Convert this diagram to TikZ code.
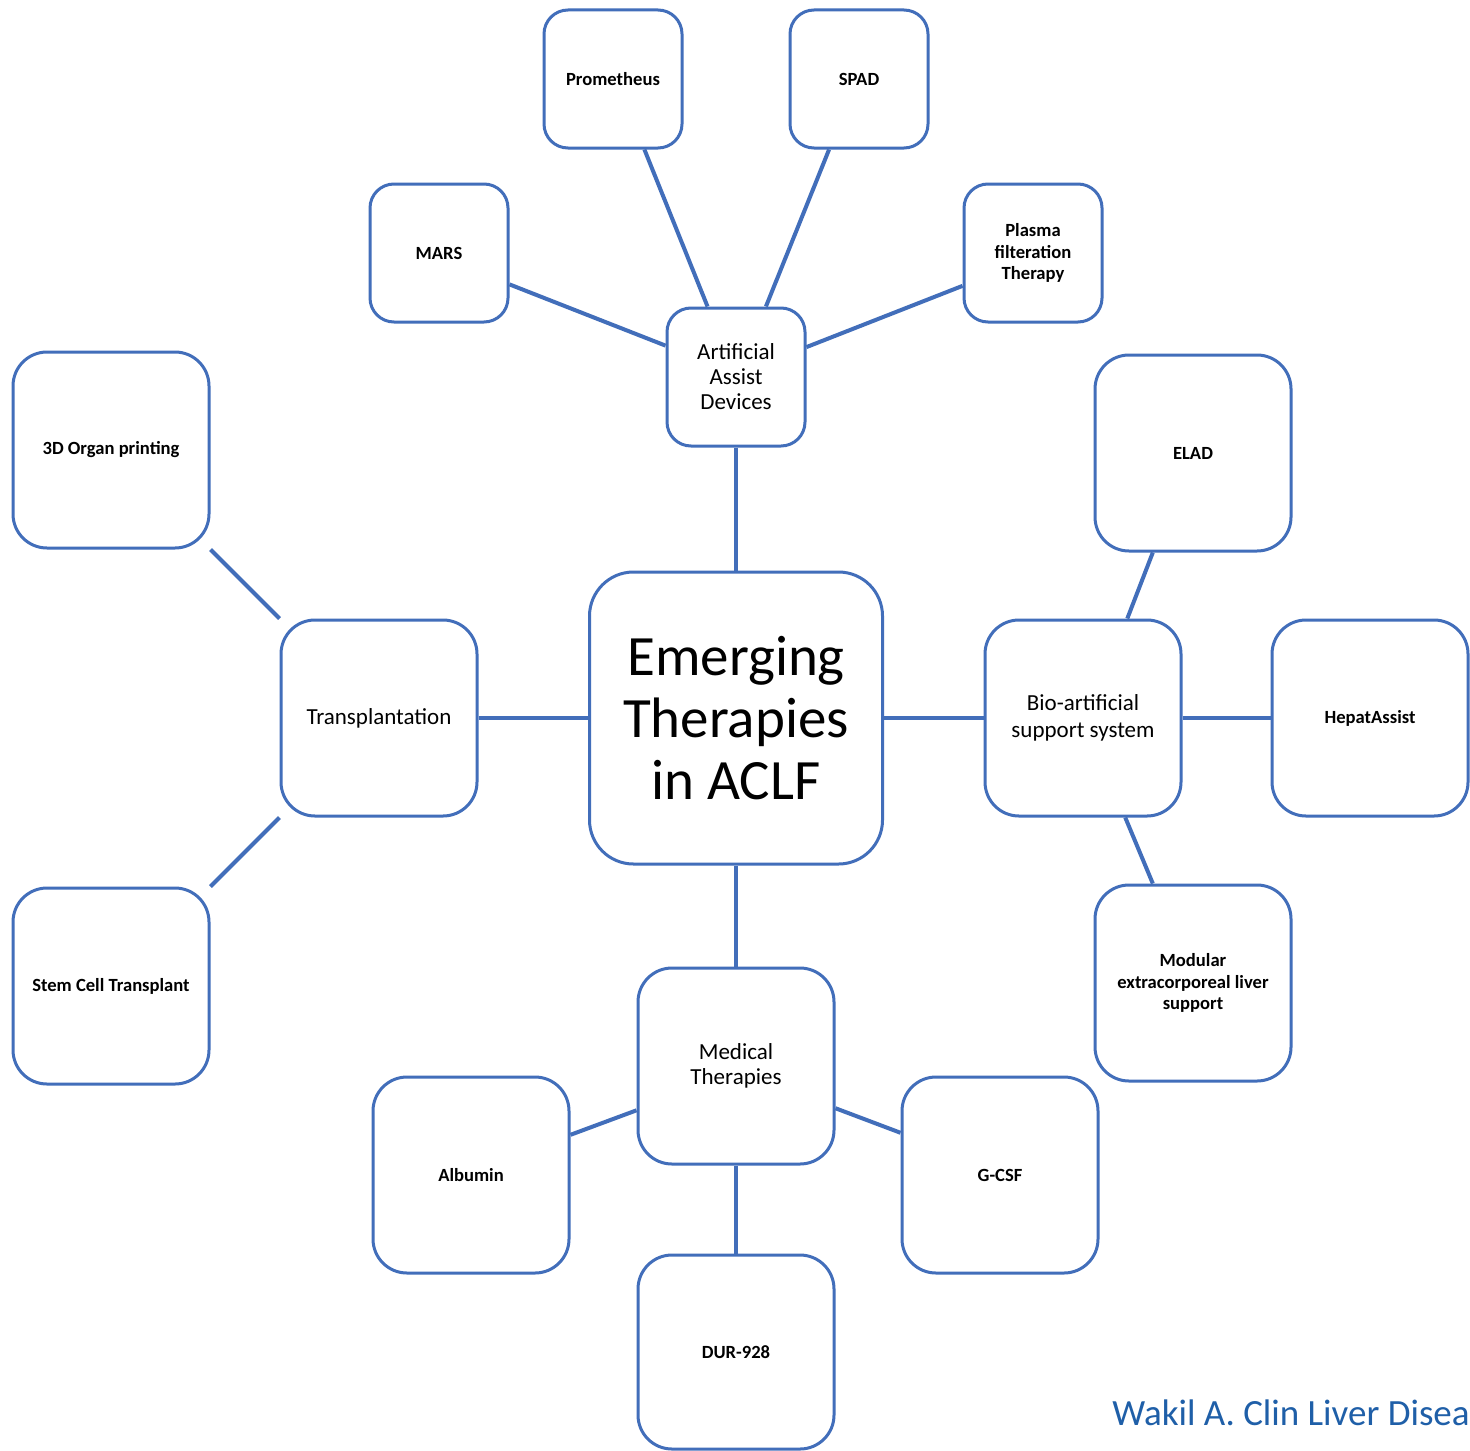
\documentclass[tikz,border=0pt]{standalone}
\usepackage{fontspec}
\setmainfont{Carlito}
\definecolor{boxblue}{RGB}{66,110,186}
\definecolor{creditblue}{RGB}{31,95,168}
\begin{document}
\begin{tikzpicture}[x=0.5pt,y=-0.5pt,
  box/.style={draw=boxblue, line width=1.5pt, rounded corners=12pt, fill=white, align=center, inner sep=2pt, text=black},
  sbox/.style={box, minimum width=69pt, minimum height=69pt},
  mbox/.style={box, minimum width=98pt, minimum height=98pt, rounded corners=17pt},
  lbl/.style={font=\fontsize{9.3}{10.7}\selectfont\bfseries},
  mid/.style={font=\fontsize{11.5}{12.5}\selectfont},
  link/.style={draw=boxblue, line width=2pt}]
\useasboundingbox (0,0) rectangle (1470,1450);
\fill[white] (0,0) rectangle (1470,1450);

\node[sbox,lbl] (prom) at (613,79) {Prometheus};
\node[sbox,lbl] (spad) at (859,79) {SPAD};
\node[sbox,lbl] (mars) at (439,253) {MARS};
\node[sbox,lbl] (plasma) at (1033,253) {Plasma\\filteration\\Therapy};
\node[sbox,mid] (aad) at (736,377) {Artificial\\Assist\\Devices};
\node[mbox,lbl] (organ) at (111,450) {3D Organ printing};
\node[mbox,mid] (trans) at (379,718) {Transplantation};
\node[box, minimum width=146.5pt, minimum height=146pt, rounded corners=22pt,
      font=\fontsize{28.5}{31}\selectfont] (main) at (736,718) {Emerging\\Therapies\\in ACLF};
\node[mbox,mid,font=\fontsize{11.5}{13.5}\selectfont] (bio) at (1083,718) {Bio-artificial\\support system};
\node[mbox,lbl] (elad) at (1193,453) {ELAD};
\node[mbox,lbl] (hep) at (1370,718) {HepatAssist};
\node[mbox,lbl] (mod) at (1193,983) {Modular\\extracorporeal liver\\support};
\node[mbox,lbl] (stem) at (111,986) {Stem Cell Transplant};
\node[mbox,mid] (med) at (736,1066) {Medical\\Therapies};
\node[mbox,lbl] (alb) at (471,1175) {Albumin};
\node[mbox,lbl] (gcsf) at (1000,1175) {G-CSF};
\node[mbox,lbl,minimum height=97pt] (dur) at (736,1352) {DUR-928};

\node[anchor=base west, inner sep=0pt, text=creditblue, font=\fontsize{18.5}{20}\selectfont] (credit) at (1112,1425) {Wakil A. Clin Liver Disea};

\draw[link] (aad.south) -- (main.north);
\draw[link] (prom.-66.5) -- (aad.112.8);
\draw[link] (spad.-113) -- (aad.67);
\draw[link] (mars.-24.2) -- (aad.156.5);
\draw[link] (plasma.-155.8) -- (aad.23.5);
\draw[link] (organ.south east) -- (trans.north west);
\draw[link] (stem.north east) -- (trans.south west);
\draw[link] (trans.east) -- (main.west);
\draw[link] (main.east) -- (bio.west);
\draw[link] (elad.-112.7) -- (bio.66.8);
\draw[link] (mod.112.7) -- (bio.-67);
\draw[link] (bio.east) -- (hep.west);
\draw[link] (main.south) -- (med.north);
\draw[link] (med.-156.8) -- (alb.22.2);
\draw[link] (med.-23.2) -- (gcsf.157.8);
\draw[link] (med.south) -- (dur.north);
\end{tikzpicture}
\end{document}
